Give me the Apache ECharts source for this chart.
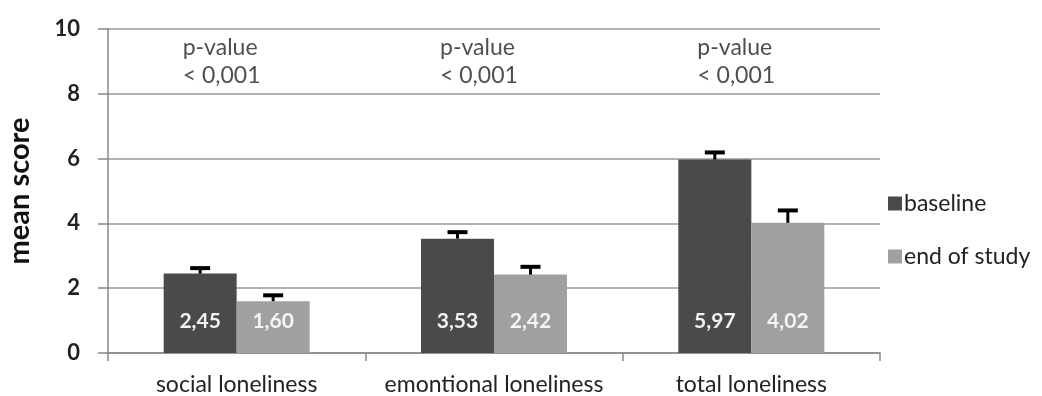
<!DOCTYPE html>
<html><head><meta charset="utf-8">
<script src="https://cdn.jsdelivr.net/npm/echarts@6/dist/echarts.min.js"></script>
<style>html,body{margin:0;padding:0;background:#fff}#c{width:1042px;height:396px}</style>
</head><body><div id="c"></div>
<script>
const categories = ['social loneliness', 'emontional loneliness', 'total loneliness'];
const baseline = [2.45, 3.53, 5.97];
const endOfStudy = [1.60, 2.42, 4.02];
const baselineErr = [0.17, 0.20, 0.22];
const endErr = [0.18, 0.24, 0.38];
const yTicks = [0, 2, 4, 6, 8, 10];
const pLabel = 'p-value\n< 0,001';
const pLevel = 9;

const FONT = 'Lato';
const BAR_W = 73;

function errSeries(vals, errs, side) {
  return {
    type: 'custom',
    z: 5,
    silent: true,
    data: vals.map((v, i) => [i, v, v + errs[i]]),
    renderItem: function (params, api) {
      const c = api.value(0);
      const p0 = api.coord([c, api.value(1)]);
      const p1 = api.coord([c, api.value(2)]);
      const x = p0[0] + side * BAR_W / 2;
      return {
        type: 'group',
        children: [
          { type: 'line', shape: { x1: x, y1: p0[1], x2: x, y2: p1[1] }, style: { stroke: '#000', lineWidth: 3 } },
          { type: 'line', shape: { x1: x - 10, y1: p1[1], x2: x + 10, y2: p1[1] }, style: { stroke: '#000', lineWidth: 4 } }
        ]
      };
    }
  };
}

const chart = echarts.init(document.getElementById('c'));
chart.setOption({
  animation: false,
  textStyle: { fontFamily: FONT },
  grid: { left: 108, right: 162, top: 29, bottom: 43, containLabel: false, outerBoundsMode: 'none' },
  legend: {
    orient: 'vertical',
    left: 883,
    top: 187,
    itemGap: 30,
    itemWidth: 14,
    itemHeight: 14,
    icon: 'rect',
    textStyle: { fontFamily: FONT, fontSize: 23, color: '#222', padding: [0, 0, 0, -3] },
    data: ['baseline', 'end of study']
  },
  xAxis: {
    type: 'category',
    data: categories,
    axisLine: { lineStyle: { color: '#888', width: 1.5 } },
    axisTick: { show: true, length: 8, lineStyle: { color: '#888', width: 1.5 } },
    axisLabel: { fontFamily: FONT, fontSize: 23, color: '#222', margin: 20, interval: 0, hideOverlap: false }
  },
  yAxis: {
    type: 'value',
    min: 0, max: 10, interval: 2,
    name: 'mean score',
    nameLocation: 'middle',
    nameGap: 74,
    nameTextStyle: { fontFamily: FONT, fontSize: 29, fontWeight: 'bold', color: '#111' },
    axisLine: { show: true, lineStyle: { color: '#888', width: 1.5 } },
    axisTick: { show: true, length: 10, lineStyle: { color: '#888', width: 1.5 } },
    splitLine: { lineStyle: { color: '#999', width: 1.5 } },
    axisLabel: {
      fontFamily: FONT, fontSize: 22, fontWeight: 'bold', color: '#222', margin: 28,
      formatter: v => yTicks.includes(v) ? String(v) : ''
    }
  },
  series: [
    {
      name: 'baseline', type: 'bar', data: baseline, barWidth: BAR_W, barGap: '0%',
      itemStyle: { color: '#4a4a4a' },
      label: {
        show: true, position: 'insideBottom', distance: 21,
        fontFamily: FONT, fontSize: 21, fontWeight: 'bold', color: '#f2f2f2',
        formatter: p => p.value.toFixed(2).replace('.', ',')
      }
    },
    {
      name: 'end of study', type: 'bar', data: endOfStudy, barWidth: BAR_W,
      itemStyle: { color: '#a0a0a0' },
      label: {
        show: true, position: 'insideBottom', distance: 21,
        fontFamily: FONT, fontSize: 21, fontWeight: 'bold', color: '#f5f5f5',
        formatter: p => p.value.toFixed(2).replace('.', ',')
      }
    },
    errSeries(baseline, baselineErr, -1),
    errSeries(endOfStudy, endErr, 1),
    {
      type: 'scatter',
      silent: true,
      symbolSize: 0,
      data: categories.map((c, i) => [i, pLevel]),
      label: {
        show: true, position: 'inside', formatter: pLabel,
        align: 'left', offset: [-54, 0],
        fontFamily: FONT, fontSize: 23, lineHeight: 28, color: '#222'
      }
    }
  ]
});
</script>
</body></html>
